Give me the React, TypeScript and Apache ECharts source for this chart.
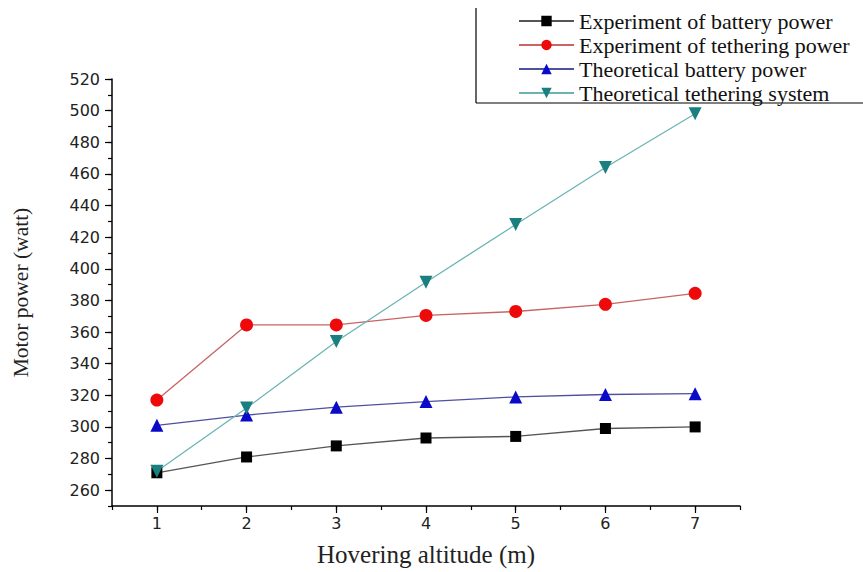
import React, { useEffect, useRef } from "react";
import * as echarts from "echarts";

const altitudes = [1, 2, 3, 4, 5, 6, 7];
const expBattery = [271, 281, 288, 293, 294, 299, 300];
const expTether = [317, 364.5, 364.5, 370.5, 373, 377.5, 384.5];
const theoBattery = [301, 307.5, 312.5, 316, 319, 320.5, 321];
const theoTether = [272, 312, 354, 391.5, 428, 464, 498];
const yMajorTicks = [260, 280, 300, 320, 340, 360, 380, 400, 420, 440, 460, 480, 500, 520];
const xMajorTicks = [1, 2, 3, 4, 5, 6, 7];

const seriesNames = [
  "Experiment of battery power",
  "Experiment of tethering power",
  "Theoretical battery power",
  "Theoretical tethering system",
];

const pair = (vals: number[]) => altitudes.map((x, i) => [x, vals[i]]);

export default function App() {
  const ref = useRef<HTMLDivElement>(null);
  useEffect(() => {
    if (!ref.current) return;
    const chart = echarts.init(ref.current, undefined, { renderer: "svg" });
    const tickFont = { fontFamily: "DejaVu Sans", fontSize: 16, color: "#222" };
    const grid = { left: 112, right: 123, top: 79, bottom: 66 };
    chart.setOption({
      animation: false,
      backgroundColor: "#fff",
      grid,
      legend: {
        orient: "vertical",
        left: 513,
        top: 5,
        itemWidth: 55,
        itemHeight: 13,
        itemGap: 2,
        textStyle: { fontFamily: "Liberation Serif", fontSize: 22, color: "#111" },
        data: seriesNames,
      },
      xAxis: [
        {
          type: "value",
          min: 0.5,
          max: 7.5,
          interval: 0.5,
          axisLine: { lineStyle: { color: "#000", width: 1.5 } },
          axisTick: { length: 4, lineStyle: { color: "#000", width: 1.2 } },
          axisLabel: { show: false },
          splitLine: { show: false },
          name: "Hovering altitude (m)",
          nameLocation: "middle",
          nameGap: 36,
          nameTextStyle: { fontFamily: "Liberation Serif", fontSize: 25, color: "#222" },
        },
        {
          type: "value",
          position: "bottom",
          min: 0.5,
          max: 7.5,
          axisLine: { show: false },
          axisTick: { length: 7, customValues: xMajorTicks, lineStyle: { color: "#000", width: 1.2 } },
          axisLabel: { customValues: xMajorTicks, margin: 9, ...tickFont },
          splitLine: { show: false },
        },
      ],
      yAxis: [
        {
          type: "value",
          min: 250,
          max: 520,
          interval: 10,
          axisLine: { show: true, lineStyle: { color: "#000", width: 1.5 } },
          axisTick: { length: 4, lineStyle: { color: "#000", width: 1.2 } },
          axisLabel: { show: false },
          splitLine: { show: false },
          name: "Motor power (watt)",
          nameLocation: "middle",
          nameGap: 80,
          nameTextStyle: { fontFamily: "Liberation Serif", fontSize: 21.5, color: "#222" },
        },
        {
          type: "value",
          position: "left",
          min: 250,
          max: 520,
          axisLine: { show: false },
          axisTick: { length: 7, customValues: yMajorTicks, lineStyle: { color: "#000", width: 1.2 } },
          axisLabel: { customValues: yMajorTicks, margin: 12, ...tickFont },
          splitLine: { show: false },
        },
      ],
      series: [
        {
          name: seriesNames[0],
          type: "line",
          data: pair(expBattery),
          symbol: "rect",
          symbolSize: 11,
          itemStyle: { color: "#000" },
          lineStyle: { color: "#555", width: 1.3 },
        },
        {
          name: seriesNames[1],
          type: "line",
          data: pair(expTether),
          symbol: "circle",
          symbolSize: 13,
          itemStyle: { color: "#ee0a0a" },
          lineStyle: { color: "#c86464", width: 1.3 },
        },
        {
          name: seriesNames[2],
          type: "line",
          data: pair(theoBattery),
          symbol: "triangle",
          symbolSize: 13,
          itemStyle: { color: "#0a0ac8" },
          lineStyle: { color: "#5050a0", width: 1.3 },
        },
        {
          name: seriesNames[3],
          type: "line",
          data: pair(theoTether),
          symbol: "triangle",
          symbolRotate: 180,
          symbolSize: 13,
          itemStyle: { color: "#1a7f7f" },
          lineStyle: { color: "#6cb4b4", width: 1.3 },
        },
      ],
      graphic: [
        { type: "line", shape: { x1: 476, y1: 8, x2: 476, y2: 103 }, style: { stroke: "#000", lineWidth: 1.2 } },
        { type: "line", shape: { x1: 476, y1: 103, x2: 863, y2: 103 }, style: { stroke: "#000", lineWidth: 1.2 } },
      ],
    });
    return () => chart.dispose();
  }, []);
  return (
    <div
      ref={ref}
      style={{ position: "fixed", left: 0, top: 0, width: 863, height: 572, background: "#fff" }}
    />
  );
}
